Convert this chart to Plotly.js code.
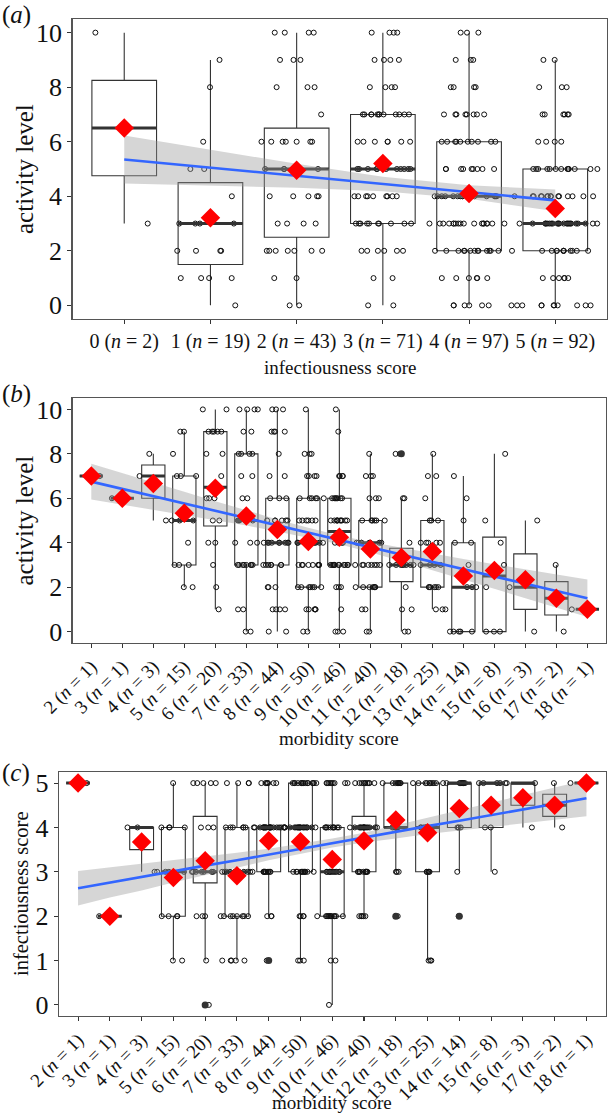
<!DOCTYPE html>
<html>
<head>
<meta charset="utf-8">
<script src="https://cdn.plot.ly/plotly-3.0.1.min.js"></script>
<style>html,body{margin:0;padding:0;background:#fff}</style>
</head>
<body>
<div id="chart" style="width:615px;height:1115px"></div>
<script>
const SERIF = 'Liberation Serif';

// (a) activity level against infectiousness score
const aCats = [0, 1, 2, 3, 4, 5];
const aN = [2, 19, 43, 71, 97, 92];
// number of answers at activity level 0..10, one row per category
const aCounts = [
  [0, 0, 0, 1, 0, 0, 0, 0, 0, 0, 1],
  [1, 4, 4, 4, 1, 2, 1, 0, 1, 1, 0],
  [2, 2, 7, 4, 5, 5, 7, 1, 3, 3, 4],
  [2, 2, 6, 10, 9, 11, 7, 12, 4, 4, 4],
  [7, 6, 14, 18, 15, 9, 10, 8, 4, 3, 3],
  [10, 6, 11, 22, 15, 13, 4, 6, 3, 2, 0]
];
const aQ1 = [4.75, 1.5, 2.5, 3, 2, 2];
const aMed = [6.5, 3, 5, 5, 4, 3];
const aQ3 = [8.25, 4.5, 6.5, 7, 6, 5];
const aLo = [3, 0, 0, 0, 0, 0];
const aHi = [10, 9, 10, 10, 10, 9];
const aMeans = [6.5, 3.21, 4.95, 5.2, 4.1, 3.55];
const aFit = [5.35, 5.05, 4.75, 4.45, 4.15, 3.85];
const aUpper = [6.23, 5.71, 5.19, 4.72, 4.40, 4.25];
const aLower = [4.47, 4.40, 4.31, 4.18, 3.91, 3.45];

// (b) activity level against morbidity score
const bCats = [2, 3, 4, 5, 6, 7, 8, 9, 10, 11, 12, 13, 14, 15, 16, 17, 18];
const bN = [1, 1, 3, 15, 20, 33, 44, 50, 46, 40, 18, 25, 14, 8, 3, 2, 1];
const bCounts = [
  [0, 0, 0, 0, 0, 0, 0, 1, 0, 0, 0],
  [0, 0, 0, 0, 0, 0, 1, 0, 0, 0, 0],
  [0, 0, 0, 0, 0, 1, 0, 1, 1, 0, 0],
  [0, 0, 2, 3, 1, 3, 0, 3, 1, 2, 0],
  [0, 1, 1, 1, 2, 2, 3, 1, 2, 5, 2],
  [2, 2, 0, 8, 3, 4, 2, 2, 4, 2, 4],
  [2, 4, 3, 7, 9, 6, 3, 2, 1, 4, 3],
  [2, 5, 7, 8, 8, 6, 6, 4, 3, 0, 1],
  [3, 1, 3, 12, 4, 10, 7, 4, 0, 1, 1],
  [2, 2, 7, 8, 8, 6, 3, 3, 1, 0, 0],
  [2, 2, 1, 8, 1, 0, 2, 0, 2, 0, 0],
  [0, 3, 6, 4, 5, 3, 1, 2, 1, 0, 0],
  [5, 0, 3, 1, 2, 1, 1, 1, 0, 0, 0],
  [3, 0, 1, 1, 1, 1, 0, 0, 1, 0, 0],
  [1, 0, 1, 0, 0, 1, 0, 0, 0, 0, 0],
  [1, 0, 0, 1, 0, 0, 0, 0, 0, 0, 0],
  [0, 1, 0, 0, 0, 0, 0, 0, 0, 0, 0]
];
const bQ1 = [7, 6, 6, 3, 4.75, 3, 3, 2, 3, 2, 2.25, 2, 0, 0, 1, 0.75, 1];
const bMed = [7, 6, 7, 5, 6.5, 5, 4, 4, 4.5, 4, 3, 3, 2, 2.5, 2, 1.5, 1];
const bQ3 = [7, 6, 7.5, 7, 9, 8, 6, 6, 6, 5, 3.75, 5, 4, 4.25, 3.5, 2.25, 1];
const bLo = [7, 6, 5, 2, 1, 0, 0, 0, 0, 0, 0, 1, 0, 0, 0, 0, 1];
const bHi = [7, 6, 8, 9, 10, 10, 10, 10, 10, 8, 6, 8, 7, 8, 5, 3, 1];
const bOutX = [12];
const bOutY = [8];
const bMeans = [7.0, 6.0, 6.67, 5.33, 6.45, 5.2, 4.6, 4.06, 4.25, 3.72, 3.33, 3.6, 2.5, 2.75, 2.33, 1.5, 1.0];
const bFit = [6.75, 6.42, 6.09, 5.77, 5.44, 5.11, 4.78, 4.45, 4.13, 3.80, 3.47, 3.14, 2.81, 2.48, 2.16, 1.83, 1.50];
const bUpper = [7.55, 7.12, 6.70, 6.29, 5.87, 5.45, 5.05, 4.67, 4.33, 4.03, 3.77, 3.52, 3.27, 3.03, 2.81, 2.57, 2.34];
const bLower = [5.95, 5.72, 5.48, 5.25, 5.01, 4.77, 4.51, 4.23, 3.93, 3.57, 3.17, 2.76, 2.35, 1.93, 1.51, 1.09, 0.66];

// (c) infectiousness score against morbidity score
const cCats = bCats;
const cN = bN;
// number of answers at infectiousness 0..5
const cCounts = [
  [0, 0, 0, 0, 0, 1],
  [0, 0, 1, 0, 0, 0],
  [0, 0, 0, 1, 2, 0],
  [0, 2, 4, 4, 4, 1],
  [1, 1, 3, 7, 3, 5],
  [0, 5, 8, 10, 6, 4],
  [0, 1, 3, 10, 23, 7],
  [0, 3, 4, 12, 17, 14],
  [1, 2, 12, 11, 10, 10],
  [0, 0, 5, 10, 15, 10],
  [0, 0, 1, 3, 6, 8],
  [0, 3, 0, 5, 8, 9],
  [0, 0, 1, 1, 3, 9],
  [0, 0, 0, 1, 2, 5],
  [0, 0, 0, 0, 1, 2],
  [0, 0, 0, 0, 1, 1],
  [0, 0, 0, 0, 0, 1]
];
const cQ1 = [5, 2, 3.5, 2, 2.75, 2, 3, 3, 2, 3, 4, 3, 4, 4, 4.5, 4.25, 5];
const cMed = [5, 2, 4, 3, 3, 3, 4, 4, 3, 4, 4, 4, 5, 5, 5, 4.5, 5];
const cQ3 = [5, 2, 4, 4, 4.25, 4, 4, 5, 4, 4.25, 5, 5, 5, 5, 5, 4.75, 5];
const cLo = [5, 2, 3, 1, 1, 1, 2, 1, 0, 2, 3, 1, 3, 3, 4, 4, 5];
const cHi = [5, 2, 4, 5, 5, 5, 5, 5, 5, 5, 5, 5, 5, 5, 5, 5, 5];
const cOutX = [6, 8, 12, 14];
const cOutY = [0, 1, 2, 2];
const cMeans = [5.0, 2.0, 3.67, 2.87, 3.25, 2.91, 3.7, 3.68, 3.28, 3.7, 4.17, 3.88, 4.43, 4.5, 4.67, 4.5, 5.0];
const cFit = [2.63, 2.76, 2.88, 3.01, 3.14, 3.26, 3.39, 3.52, 3.65, 3.77, 3.90, 4.03, 4.15, 4.28, 4.41, 4.53, 4.66];
const cUpper = [3.02, 3.10, 3.18, 3.26, 3.35, 3.43, 3.52, 3.63, 3.75, 3.88, 4.05, 4.21, 4.38, 4.55, 4.73, 4.89, 5.07];
const cLower = [2.24, 2.42, 2.58, 2.76, 2.93, 3.09, 3.26, 3.41, 3.55, 3.66, 3.75, 3.85, 3.92, 4.01, 4.09, 4.17, 4.25];

const BOXW = 0.75;
const INK = '#333333';

function panelTraces(xa, ya, cats, counts, q1, med, q3, lo, hi, means, fit, upper, lower, outX, outY) {
  const ax = {xaxis: xa, yaxis: ya, hoverinfo: 'skip', showlegend: false};
  // one sample per answer
  const sx = [], sy = [];
  cats.forEach((c, i) => {
    counts[i].forEach((k, v) => {
      for (let j = 0; j < k; j++) { sx.push(c); sy.push(v); }
    });
  });
  // thick median bars like ggplot
  const mx = [], my = [];
  cats.forEach((c, i) => {
    mx.push(c - BOXW / 2, c + BOXW / 2, null);
    my.push(med[i], med[i], null);
  });
  const bandX = cats.concat(cats.slice().reverse());
  const bandY = upper.concat(lower.slice().reverse());
  const traces = [
    Object.assign({type: 'box', x: cats, q1: q1, median: med, q3: q3,
      lowerfence: lo, upperfence: hi, width: BOXW, whiskerwidth: 0,
      boxpoints: false, fillcolor: '#ffffff', line: {color: INK, width: 1.1}}, ax),
    Object.assign({type: 'scatter', mode: 'lines', x: mx, y: my,
      line: {color: INK, width: 3}}, ax),
    // invisible wider box only used for plotly's jittered sample points
    Object.assign({type: 'box', x: sx, y: sy, width: 1.05, boxpoints: 'all',
      jitter: 1, pointpos: 0, fillcolor: 'rgba(0,0,0,0)',
      line: {color: 'rgba(0,0,0,0)', width: 0},
      marker: {symbol: 'circle-open', size: 5, color: '#111', line: {width: 1}}}, ax)
  ];
  if (outX.length) {
    traces.push(Object.assign({type: 'scatter', mode: 'markers', x: outX, y: outY,
      marker: {color: INK, size: 7}}, ax));
  }
  traces.push(Object.assign({type: 'scatter', mode: 'lines', x: bandX, y: bandY,
    fill: 'toself', fillcolor: 'rgba(153,153,153,0.4)', line: {width: 0}}, ax));
  traces.push(Object.assign({type: 'scatter', mode: 'lines', x: cats, y: fit,
    line: {color: '#3366FF', width: 2.6}}, ax));
  traces.push(Object.assign({type: 'scatter', mode: 'markers', x: cats, y: means,
    marker: {symbol: 'diamond', color: '#FF0000', size: 15}}, ax));
  return traces;
}

const data = []
  .concat(panelTraces('x', 'y', aCats, aCounts, aQ1, aMed, aQ3, aLo, aHi, aMeans, aFit, aUpper, aLower, [], []))
  .concat(panelTraces('x2', 'y2', bCats, bCounts, bQ1, bMed, bQ3, bLo, bHi, bMeans, bFit, bUpper, bLower, bOutX, bOutY))
  .concat(panelTraces('x3', 'y3', cCats, cCounts, cQ1, cMed, cQ3, cLo, cHi, cMeans, cFit, cUpper, cLower, cOutX, cOutY));

const nLabel = (c, n) => c + ' (<i>n</i> = ' + n + ')';

const W = 615, H = 1115;
const fx = px => px / W;
const fy = px => 1 - px / H;

const frame = {
  showline: true, mirror: true, linecolor: '#555555', linewidth: 1.3,
  ticks: 'outside', ticklen: 4, tickwidth: 1.1, tickcolor: INK,
  showgrid: false, zeroline: false, fixedrange: true
};
const xFont = {family: SERIF, size: 19, color: '#111'};
const yFont = {family: SERIF, size: 26, color: '#111'};

const layout = {
  width: W, height: H,
  margin: {l: 0, r: 0, t: 0, b: 0},
  paper_bgcolor: '#ffffff', plot_bgcolor: '#ffffff',
  showlegend: false, boxmode: 'overlay',
  xaxis: Object.assign({}, frame, {domain: [fx(72.5), fx(607)], anchor: 'y', range: [-0.6, 5.6],
    tickvals: aCats, ticktext: aCats.map((c, i) => nLabel(c, aN[i])), tickangle: 0,
    tickfont: {family: SERIF, size: 20, color: '#111'}}),
  yaxis: Object.assign({}, frame, {domain: [fy(319), fy(19)], anchor: 'x', range: [-0.5, 10.5],
    tickvals: [0, 2, 4, 6, 8, 10], tickfont: yFont}),
  xaxis2: Object.assign({}, frame, {domain: [fx(72.7), fx(606)], anchor: 'y2', range: [1.4, 18.6],
    tickvals: bCats, ticktext: bCats.map((c, i) => nLabel(c, bN[i])), tickangle: -45, tickfont: xFont}),
  yaxis2: Object.assign({}, frame, {domain: [fy(642.7), fy(398.3)], anchor: 'x2', range: [-0.5, 10.5],
    tickvals: [0, 2, 4, 6, 8, 10], tickfont: yFont}),
  xaxis3: Object.assign({}, frame, {domain: [fx(59), fx(605.5)], anchor: 'y3', range: [1.4, 18.6],
    tickvals: cCats, ticktext: cCats.map((c, i) => nLabel(c, cN[i])), tickangle: -45, tickfont: xFont}),
  yaxis3: Object.assign({}, frame, {domain: [fy(1016), fy(772)], anchor: 'x3', range: [-0.25, 5.25],
    tickvals: [0, 1, 2, 3, 4, 5], tickfont: yFont}),
  annotations: [
    {text: '(<i>a</i>)', x: 0, y: fy(15), xanchor: 'left', yanchor: 'middle'},
    {text: '(<i>b</i>)', x: 0, y: fy(394), xanchor: 'left', yanchor: 'middle'},
    {text: '(<i>c</i>)', x: 0, y: fy(773), xanchor: 'left', yanchor: 'middle'}
  ].map(a => Object.assign(a, {xref: 'paper', yref: 'paper', showarrow: false,
    font: {family: SERIF, size: 25, color: '#111'}})).concat([
    {text: 'infectiousness score', x: fx(340), y: fy(367), size: 19},
    {text: 'morbidity score', x: fx(339), y: fy(738), size: 19},
    {text: 'morbidity score', x: fx(332), y: fy(1102), size: 19},
    {text: 'activity level', x: fx(24), y: fy(169), size: 25, angle: -90},
    {text: 'activity level', x: fx(24), y: fy(520.5), size: 25, angle: -90},
    {text: 'infectiousness score', x: fx(21), y: fy(894), size: 20.5, angle: -90}
  ].map(a => ({text: a.text, x: a.x, y: a.y, xref: 'paper', yref: 'paper', showarrow: false,
    xanchor: 'center', yanchor: 'middle', textangle: a.angle || 0,
    font: {family: SERIF, size: a.size, color: '#111'}})))
};

Plotly.newPlot('chart', data, layout, {staticPlot: true});
</script>
</body>
</html>
